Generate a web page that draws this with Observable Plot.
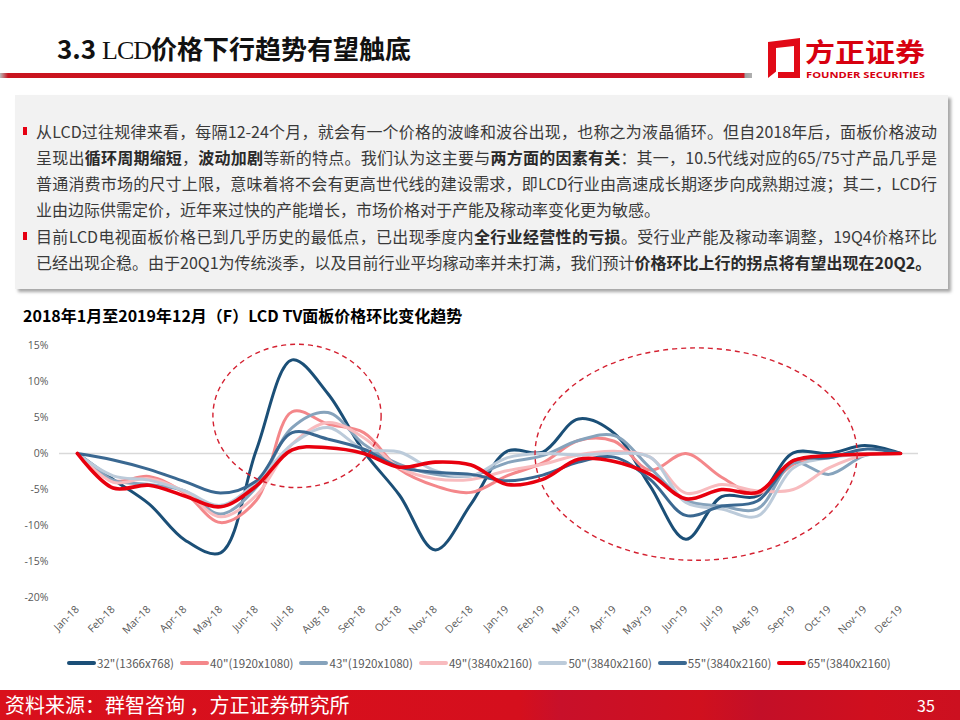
<!DOCTYPE html>
<html><head><meta charset="utf-8">
<script src="https://cdn.jsdelivr.net/npm/d3@7"></script>
<script src="https://cdn.jsdelivr.net/npm/@observablehq/plot@0.6"></script>
<style>
body{margin:0;width:960px;height:720px;position:relative;overflow:hidden;background:#fff;font-family:"Noto Sans CJK SC","Noto Sans",sans-serif;}
#title{position:absolute;left:57px;top:29px;font-size:26px;font-weight:700;color:#111;white-space:nowrap;line-height:38px;}
#title .lcd{font-family:"Liberation Serif",serif;font-weight:400;font-size:26px;letter-spacing:-1px;}
#bar{position:absolute;left:0;top:73px;width:752px;height:5px;background:linear-gradient(90deg,#b9b9b9 0,#c8141f 8px,#d0121e 300px,#c0102a 500px,#cf1420 744px,#a0a0a0 745px,#b0b0b0 752px);}
#logo{position:absolute;left:764px;top:32px;}
#box{position:absolute;left:15px;top:95px;width:933px;height:194px;background:#F2F2F2;box-shadow:3px 3px 3px rgba(0,0,0,0.35);}
#text{position:absolute;left:21px;top:23px;width:901px;font-size:16px;color:#3a3a3a;}
#text .ln{height:26px;line-height:26px;white-space:nowrap;text-align:left;}
#text .j{text-align:justify;text-align-last:justify;white-space:normal;overflow:hidden;}
#text b{font-weight:700;color:#2a2a2a;}
.bul{position:absolute;left:-13px;width:4px;height:8px;background:#E60012;}
#ctitle{position:absolute;left:23px;top:303px;font-size:16px;font-weight:700;color:#000;white-space:nowrap;}
#chart{position:absolute;left:0;top:330px;}
#legend{position:absolute;left:67px;top:655px;height:16px;display:flex;align-items:center;font-family:"Noto Sans CJK SC","Open Sans",sans-serif;font-size:11.6px;color:#595959;white-space:nowrap;}
#legend .it{display:flex;align-items:center;margin-right:6px;}
#legend .sw{width:29px;height:4px;margin-right:1px;border-radius:2px;}
#footer{position:absolute;left:0;top:690px;width:960px;height:30px;background:linear-gradient(90deg,#d9101c 0,#d50f1d 520px,#c8102a 560px,#d0101e 700px,#c30f28 760px,#d00f1e 870px,#cc1020 960px);color:#fff;}
#footer .src{position:absolute;left:5px;top:0;font-size:20px;line-height:30px;}
#footer .pg{position:absolute;left:917px;top:0;font-size:16px;line-height:30px;}
</style></head><body>
<div id="title">3.3 <span class="lcd">LCD</span>价格下行趋势有望触底</div>
<div id="bar"></div>
<svg id="logo" width="176" height="52" viewBox="0 0 176 52">
  <polygon points="4,10 36,6 36,46 4,46" fill="#E10A17"/>
  <polygon points="12,16 30,14 30,40 12,40" fill="#fff"/>
  <polygon points="4,46 14,38 14,46" fill="#fff"/>
  <text x="41" y="30" font-size="26" font-weight="700" fill="#D7000F" textLength="120" lengthAdjust="spacingAndGlyphs" font-family="Noto Sans CJK SC">方正证券</text>
  <text x="42" y="46" font-size="9" font-weight="700" fill="#D7000F" textLength="119" lengthAdjust="spacingAndGlyphs" font-family="Open Sans, sans-serif">FOUNDER SECURITIES</text>
</svg>
<div id="box"><div id="text">
  <div style="position:relative"><span class="bul" style="top:9px"></span>
  <div class="ln j">从LCD过往规律来看，每隔12-24个月，就会有一个价格的波峰和波谷出现，也称之为液晶循环。但自2018年后，面板价格波动</div>
  <div class="ln j">呈现出<b>循环周期缩短</b>，<b>波动加剧</b>等新的特点。我们认为这主要与<b>两方面的因素有关</b>：其一，10.5代线对应的65/75寸产品几乎是</div>
  <div class="ln j">普通消费市场的尺寸上限，意味着将不会有更高世代线的建设需求，即LCD行业由高速成长期逐步向成熟期过渡；其二，LCD行</div>
  <div class="ln">业由边际供需定价，近年来过快的产能增长，市场价格对于产能及稼动率变化更为敏感。</div>
  </div>
  <div style="position:relative;margin-top:1px"><span class="bul" style="top:9px"></span>
  <div class="ln j">目前LCD电视面板价格已到几乎历史的最低点，已出现季度内<b>全行业经营性的亏损</b>。受行业产能及稼动率调整，19Q4价格环比</div>
  <div class="ln">已经出现企稳。由于20Q1为传统淡季，以及目前行业平均稼动率并未打满，我们预计<b>价格环比上行的拐点将有望出现在20Q2。</b></div>
  </div>
</div></div>
<div id="ctitle">2018年1月至2019年12月（F）LCD TV面板价格环比变化趋势</div>
<div id="chart"></div>
<div id="legend"></div>
<div id="footer"><span class="src">资料来源：群智咨询 ，方正证券研究所</span><span class="pg">35</span></div>
<script>
const months = ["Jan-18","Feb-18","Mar-18","Apr-18","May-18","Jun-18","Jul-18","Aug-18","Sep-18","Oct-18","Nov-18","Dec-18",
                "Jan-19","Feb-19","Mar-19","Apr-19","May-19","Jun-19","Jul-19","Aug-19","Sep-19","Oct-19","Nov-19","Dec-19"];
const yTicks = [-20,-15,-10,-5,0,5,10,15];

// month-on-month panel price change, %
const s32 = [0,-3.6,-7.0,-12.0,-13.8,0.5,13.0,8.3,0.3,-5.8,-13.4,-7.0, 0.3,0.2,4.8,2.8,-4.5,-11.9,-6.0,-5.9,0.1,0,1.1,0];
const s40 = [0,-3.8,-3.2,-5.5,-9.6,-6.5,5.8,4.1,2.9,-2.2,-4.5,-5.4, -3.1,-1.3,1.8,1.7,-2.3,0,-3.3,-5.6,-1.5,-0.3,0,0];
const s43 = [0,-3.7,-4.3,-5.2,-8.4,-4.7,3.6,5.7,1.3,-1.5,-2.9,-3.1, -1.3,-0.3,1.8,2.5,-2.0,-6.5,-7.3,-7.7,-1.3,-2.9,-0.3,0];
const s49 = [0,-4.0,-3.5,-5.3,-8.8,-5.8,1.3,4.3,2.2,-2.0,-3.5,-3.6, -2.4,-1.5,-0.2,0.3,-0.5,-5.5,-4.3,-5.2,-5.0,-2.0,-0.2,0];
const s50 = [0,-3.1,-3.7,-5.2,-7.2,-4.0,1.3,3.6,0.6,0.2,-2.4,-3.1, -0.6,0,-0.2,0,-0.5,-6.8,-7.7,-8.7,-2.0,-0.6,-0.1,0];
const s55 = [0,-0.9,-2.2,-3.9,-5.5,-3.8,2.9,2.0,0.6,-1.9,-2.6,-2.9, -3.8,-3.0,-1.2,-0.5,-3.6,-8.6,-7.3,-6.6,-1.0,-0.6,0.6,0];
const s65 = [0,-4.8,-4.4,-5.9,-7.4,-4.5,0.5,0.8,0.0,-1.9,-1.2,-1.6, -4.3,-3.6,-0.8,-1.1,-2.9,-6.3,-5.0,-5.4,-1.0,-0.3,-0.1,0];

const seriesNames = ['32"(1366x768)','40"(1920x1080)','43"(1920x1080)','49"(3840x2160)','50"(3840x2160)','55"(3840x2160)','65"(3840x2160)'];
const seriesValues = [s32,s40,s43,s49,s50,s55,s65];
const seriesColors = ["#1B4F77","#F4878A","#86A3BC","#F8BBBE","#BCCBDA","#3A6891","#E8000E"];
const seriesWidths = [3,3,3,3,3,3,3.6];

// highlighted regions (dashed ellipses), in month-index and % units
const highlightMonthSpan = [[3.8,8.5],[12.8,21.8]];
const highlightValueSpan = [[15.1,-4.8],[14.6,-14.9]];

const table = seriesNames.flatMap((name,i) => seriesValues[i].map((v,j) => ({series:name, month:months[j], value:v})));

function ellipses(index, scales) {
  const sx = scales.x, sy = scales.y;
  const x0 = sx(months[0]), step = sx(months[1]) - x0;
  const g = d3.create("svg:g");
  highlightMonthSpan.forEach((span,i) => {
    const xa = x0 + span[0]*step, xb = x0 + span[1]*step;
    const ya = sy(highlightValueSpan[i][0]), yb = sy(highlightValueSpan[i][1]);
    g.append("ellipse").attr("cx",(xa+xb)/2).attr("cy",(ya+yb)/2)
      .attr("rx",(xb-xa)/2).attr("ry",Math.abs(yb-ya)/2)
      .attr("fill","none").attr("stroke","#D42030").attr("stroke-width",1.4).attr("stroke-dasharray","5,4");
  });
  return g.node();
}

const lines = seriesNames.map((name,i) => Plot.line(table.filter(d => d.series === name),
  {x:"month", y:"value", stroke:seriesColors[i], strokeWidth:seriesWidths[i], curve:"catmull-rom", strokeLinejoin:"round", strokeLinecap:"round"}));

const chart = Plot.plot({
  width:960, height:325,
  marginTop:15, marginBottom:58, marginLeft:59, marginRight:42,
  x:{type:"point", domain:months, padding:0.5, round:false, label:null, tickRotate:-45, tickSize:0, tickPadding:10},
  y:{domain:[-20,15], ticks:yTicks, tickFormat:d => d + "%", tickSize:0, tickPadding:11, label:null},
  style:{fontFamily:"'Open Sans','Noto Sans',sans-serif", fontSize:"10.5px", color:"#595959", background:"transparent"},
  marks:[
    Plot.ruleY([0], {stroke:"#D9D9D9", strokeWidth:1.5}),
    ...lines,
    ellipses
  ]
});
document.getElementById("chart").appendChild(chart);

const legend = d3.select("#legend");
seriesNames.forEach((name,i) => {
  const it = legend.append("div").attr("class","it");
  it.append("div").attr("class","sw").style("background", seriesColors[i]);
  it.append("span").text(name);
});
</script>
</body></html>
